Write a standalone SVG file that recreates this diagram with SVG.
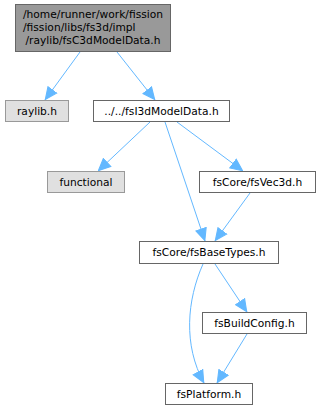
<svg xmlns="http://www.w3.org/2000/svg" width="319" height="411" viewBox="0 0 319 411">
<defs>
<style>
.n rect{fill:#ffffff;stroke:#666666;stroke-width:1}
.n.ext rect{fill:#e0e0e0;stroke:#999999}
.n.root rect{fill:#999999;stroke:#666666}
text{font-family:"DejaVu Sans","Liberation Sans",sans-serif;font-size:10.67px;fill:#000000}
.c{text-anchor:middle}
.e path{fill:none;stroke:#63b8ff;stroke-width:1}
</style>
<marker id="ah" markerUnits="userSpaceOnUse" markerWidth="13" markerHeight="13" viewBox="0 0 12 11" refX="12" refY="5.5" orient="auto">
<path d="M0.5,0.5 L11.5,5.5 L0.5,10.5 Z" fill="#63b8ff" stroke="#63b8ff" stroke-width="1"/>
</marker>
</defs>
<rect width="319" height="411" fill="#ffffff"/>
<g id="edges" class="e">
<path d="M80,52 L45,100" marker-end="url(#ah)"/>
<path d="M117,52 L155,100" marker-end="url(#ah)"/>
<path d="M150,122 L98,171" marker-end="url(#ah)"/>
<path d="M165,122 L205,241" marker-end="url(#ah)"/>
<path d="M177,122 L243,171" marker-end="url(#ah)"/>
<path d="M250,193 L215,241" marker-end="url(#ah)"/>
<path d="M203,264 C187,300 183,345 204,383" marker-end="url(#ah)"/>
<path d="M215,264 L247,312" marker-end="url(#ah)"/>
<path d="M247,334 L217,383" marker-end="url(#ah)"/>
</g>
<g id="root" class="n root">
<rect x="15.5" y="4.5" width="155" height="47"/>
<text x="23" y="18">/home/runner/work/fission</text>
<text x="23" y="31">/fission/libs/fs3d/impl</text>
<text class="c" x="93" y="44">/raylib/fsC3dModelData.h</text>
</g>
<g id="raylib" class="n ext">
<rect x="5.5" y="100.5" width="63" height="21"/>
<text class="c" x="37" y="115">raylib.h</text>
</g>
<g id="fsI3dModelData" class="n">
<rect x="93.5" y="100.5" width="136" height="21"/>
<text class="c" x="161.5" y="115">../../fsI3dModelData.h</text>
</g>
<g id="functional" class="n ext">
<rect x="47.5" y="171.5" width="77" height="21"/>
<text class="c" x="86" y="186">functional</text>
</g>
<g id="fsVec3d" class="n">
<rect x="199.5" y="171.5" width="116" height="21"/>
<text class="c" x="257.5" y="186">fsCore/fsVec3d.h</text>
</g>
<g id="fsBaseTypes" class="n">
<rect x="139.5" y="241.5" width="139" height="22"/>
<text class="c" x="209" y="256">fsCore/fsBaseTypes.h</text>
</g>
<g id="fsBuildConfig" class="n">
<rect x="202.5" y="312.5" width="104" height="21"/>
<text class="c" x="254.5" y="327">fsBuildConfig.h</text>
</g>
<g id="fsPlatform" class="n">
<rect x="165.5" y="383.5" width="87" height="21"/>
<text class="c" x="209" y="398">fsPlatform.h</text>
</g>
</svg>
